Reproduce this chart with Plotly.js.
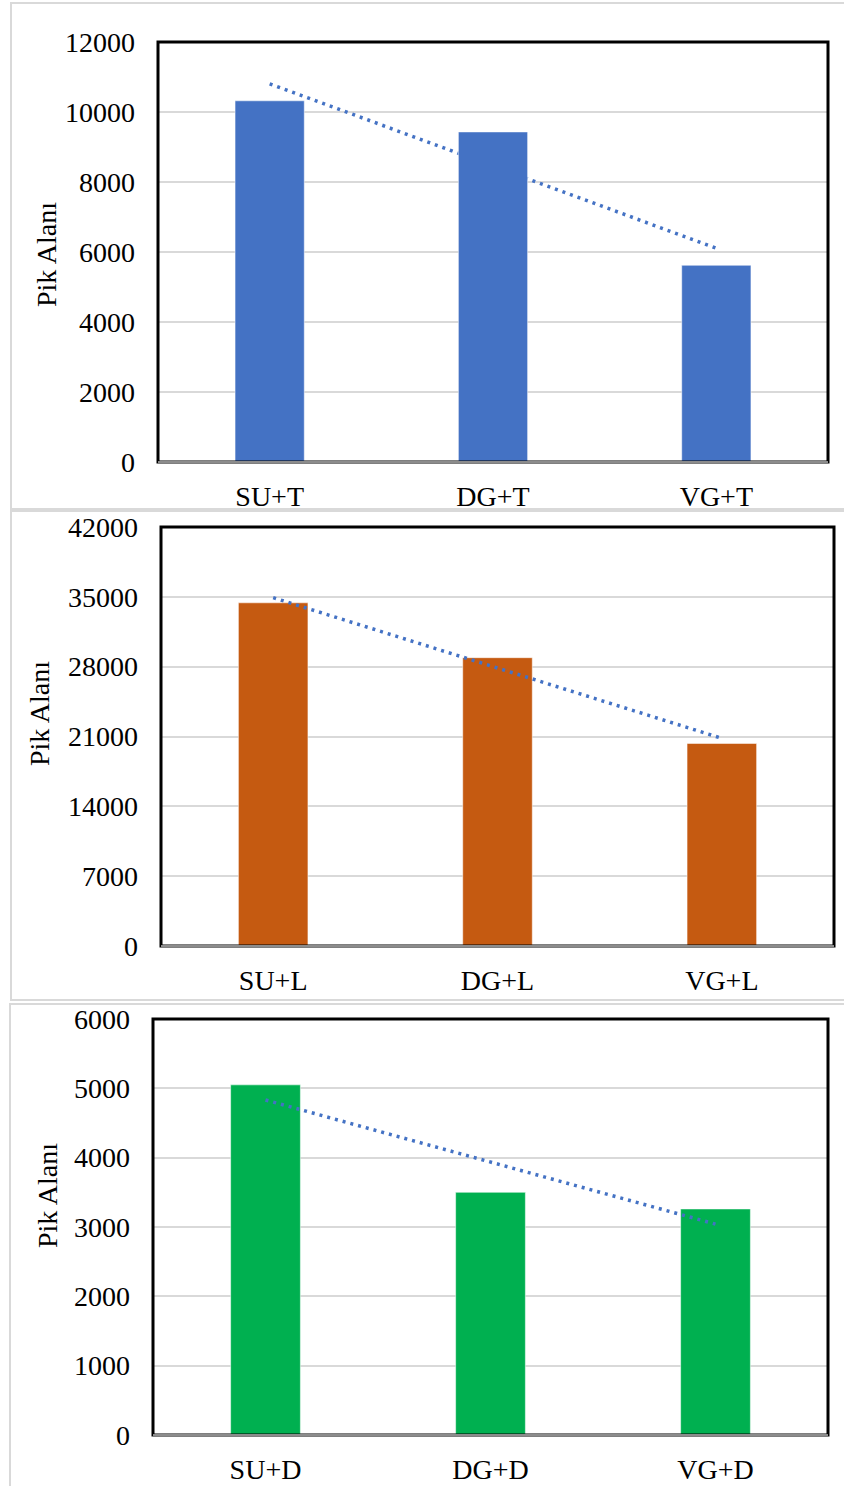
<!DOCTYPE html>
<html>
<head>
<meta charset="utf-8">
<script src="https://cdn.plot.ly/plotly-3.0.1.min.js"></script>
<style>html,body{margin:0;padding:0;background:#fff;}#chart{width:844px;height:1486px;}</style>
</head>
<body>
<div id="chart"></div>
<script>
// ---- data ----
const catsT = ["SU+T", "DG+T", "VG+T"];
const valsT = [10320, 9430, 5620];
const catsL = ["SU+L", "DG+L", "VG+L"];
const valsL = [34400, 28900, 20300];
const catsD = ["SU+D", "DG+D", "VG+D"];
const valsD = [5050, 3500, 3260];
const ticksT = [0, 2000, 4000, 6000, 8000, 10000, 12000];
const ticksL = [0, 7000, 14000, 21000, 28000, 35000, 42000];
const ticksD = [0, 1000, 2000, 3000, 4000, 5000, 6000];
const yTitle = "Pik Alanı";

// linear trendline (least squares on category index)
function trend(v) {
  const n = v.length;
  const xs = v.map((_, i) => i + 1);
  const mx = xs.reduce((a, b) => a + b, 0) / n;
  const my = v.reduce((a, b) => a + b, 0) / n;
  let num = 0, den = 0;
  for (let i = 0; i < n; i++) { num += (xs[i] - mx) * (v[i] - my); den += (xs[i] - mx) ** 2; }
  const s = num / den;
  return xs.map(x => my + s * (x - mx));
}

const W = 844, H = 1486;
const px = x => x / W;
const py = y => 1 - y / H;

const FONT = "'Liberation Serif', 'Times New Roman', serif";
const BLUE = "#4472c4";
const DOT = "3px,5px";

const panels = [
  {cats: catsT, vals: valsT, ticks: ticksT, color: "#4472c4", box: [158, 42, 828, 462], lab: [46, 255], trendBehind: true},
  {cats: catsL, vals: valsL, ticks: ticksL, color: "#c55a11", box: [161, 527, 834, 946], lab: [40, 714], trendBehind: false},
  {cats: catsD, vals: valsD, ticks: ticksD, color: "#00b050", box: [153, 1019, 828, 1435], lab: [47, 1196], trendBehind: false}
];

const data = [];
const layout = {
  width: W, height: H,
  margin: {l: 0, r: 0, t: 0, b: 0},
  paper_bgcolor: "#ffffff", plot_bgcolor: "#ffffff",
  showlegend: false,
  font: {family: FONT, size: 28, color: "#000"},
  shapes: [], annotations: []
};

// panel borders
const frames = [[11, 3, 860, 509], [11, 511, 860, 1000], [10, 1004, 860, 1495]];
frames.forEach(f => layout.shapes.push({type: "rect", xref: "paper", yref: "paper",
  x0: px(f[0]), x1: px(f[2]), y0: py(f[3]), y1: py(f[1]),
  line: {color: "#d9d9d9", width: 2}, layer: "below"}));

panels.forEach((p, i) => {
  const k = i === 0 ? "" : String(i + 1);
  const xa = "x" + k, ya = "y" + k;
  const tr = trend(p.vals);
  const ymax = p.ticks[p.ticks.length - 1];
  layout["xaxis" + k] = {
    domain: [px(p.box[0]), px(p.box[2])], anchor: ya, type: "category",
    showgrid: false, zeroline: false, showline: false, ticks: "",
    tickfont: {family: FONT, size: 28, color: "#000"}, ticklabelstandoff: 15, fixedrange: true
  };
  layout["yaxis" + k] = {
    domain: [py(p.box[3]), py(p.box[1])], anchor: xa, range: [0, ymax],
    tickvals: p.ticks, ticktext: p.ticks.map(String),
    showgrid: true, gridcolor: "#d9d9d9", gridwidth: 2, zeroline: false, showline: false, ticks: "",
    tickfont: {family: FONT, size: 28, color: "#000"}, ticklabelstandoff: 22, fixedrange: true
  };
  data.push({type: "bar", x: p.cats, y: p.vals, xaxis: xa, yaxis: ya, width: 0.31,
    marker: {color: p.color, line: {color: "rgba(255,255,255,0.5)", width: 1}}, hoverinfo: "skip"});
  if (p.trendBehind) {
    layout.shapes.push({type: "line", xref: xa, yref: ya, x0: p.cats[0], x1: p.cats[p.cats.length - 1],
      y0: tr[0], y1: tr[tr.length - 1], line: {color: BLUE, width: 3.5, dash: DOT}, layer: "between"});
  } else {
    data.push({type: "scatter", mode: "lines", x: p.cats, y: tr, xaxis: xa, yaxis: ya,
      line: {color: BLUE, width: 3.5, dash: DOT}, hoverinfo: "skip"});
  }
  // plot frame
  layout.shapes.push({type: "rect", xref: xa + " domain", yref: ya + " domain", x0: 0, x1: 1, y0: 0, y1: 1,
    line: {color: "#000", width: 3}, layer: "above"});
  layout.shapes.push({type: "line", xref: xa + " domain", yref: ya + " domain", x0: 0, x1: 1, y0: 0, y1: 0,
    line: {color: "#8c8c8c", width: 2}, layer: "above"});
  layout.annotations.push({text: yTitle, xref: "paper", yref: "paper", x: px(p.lab[0]), y: py(p.lab[1]),
    xanchor: "center", yanchor: "middle", textangle: -90, showarrow: false,
    font: {family: FONT, size: 28, color: "#000"}});
});

Plotly.newPlot("chart", data, layout, {staticPlot: true, displayModeBar: false});
</script>
</body>
</html>
